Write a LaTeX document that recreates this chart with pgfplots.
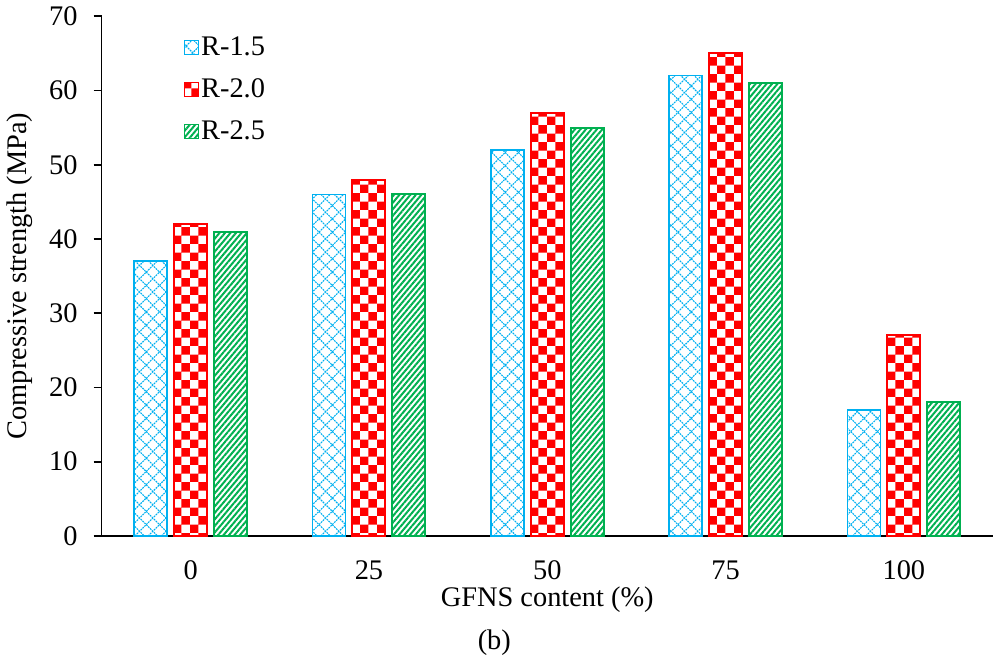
\documentclass[border=0pt]{standalone}
\usepackage{fontspec}
\setmainfont{Liberation Serif}
\usepackage{pgfplots}
\pgfplotsset{compat=1.18}
\usetikzlibrary{patterns.meta}

\definecolor{rblue}{HTML}{00B0F0}
\definecolor{rred}{HTML}{FF0000}
\definecolor{rgreen}{HTML}{00B050}

% diagonal lattice of dashed lines
\pgfdeclarepattern{
  name=lattice,
  type=uncolored,
  bottom left={\pgfpoint{-0.1pt}{-0.1pt}},
  top right={\pgfpoint{6.75pt}{6.75pt}},
  tile size={\pgfpoint{6.65pt}{6.65pt}},
  code={
    \pgfsetlinewidth{0.55pt}
    \pgfsetdash{{0.9pt}{0.45pt}}{0pt}
    \pgfpathmoveto{\pgfpoint{0pt}{0pt}}\pgfpathlineto{\pgfpoint{6.65pt}{6.65pt}}
    \pgfpathmoveto{\pgfpoint{0pt}{6.65pt}}\pgfpathlineto{\pgfpoint{6.65pt}{0pt}}
    \pgfusepath{stroke}
  }
}
% checkerboard
\pgfdeclarepattern{
  name=checker,
  type=uncolored,
  bottom left={\pgfpoint{0pt}{0pt}},
  top right={\pgfpoint{8.7pt}{8.7pt}},
  tile size={\pgfpoint{8.7pt}{8.7pt}},
  code={
    \pgfpathrectangle{\pgfpoint{0pt}{0pt}}{\pgfpoint{4.35pt}{4.35pt}}
    \pgfpathrectangle{\pgfpoint{4.35pt}{4.35pt}}{\pgfpoint{4.35pt}{4.35pt}}
    \pgfusepath{fill}
  }
}

\pgfplotsset{
  sqlegend/.style={legend image code/.code={
    \draw[##1, line width=0.6pt] (0pt,-3.5pt) rectangle (7pt,3.5pt);}},
}

\begin{document}
\begin{tikzpicture}[font=\fontsize{14.2}{17}\selectfont]
\begin{axis}[
  scale only axis, width=446pt, height=260pt,
  xmin=-0.5, xmax=4.5, ymin=0, ymax=70,
  ytick={0,10,...,70},
  xtick={0,1,2,3,4}, xticklabels={0,25,50,75,100},
  axis x line*=bottom, axis y line*=left,
  axis line style={line width=0.9pt, -},
  x tick style={draw=none},
  y tick style={line width=0.9pt, black},
  major tick length=4pt, tick align=outside,
  yticklabel shift=4.5pt,
  xticklabel style={yshift=-5pt},
  ybar=3.5pt, bar width=16.5pt,
  /pgf/number format/assume math mode=true,
  xlabel={GFNS content (\%)},
  ylabel={Compressive strength (MPa)},
  xlabel style={at={(axis description cs:0.5,0)}, anchor=center, yshift=-32pt},
  ylabel style={at={(axis description cs:0,0.5)}, anchor=center, yshift=41pt},
  legend style={draw=none, fill=none, at={(rel axis cs:0.0853,0.973)},
    anchor=north west, row sep=8pt, nodes={inner sep=1pt}},
  legend cell align=left,
  clip=false,
]
\addplot[draw=rblue, line width=0.8pt, pattern=lattice, pattern color=rblue, sqlegend]
  coordinates {(0,37) (1,46) (2,52) (3,62) (4,17)};
\addplot[draw=rred, line width=1pt, pattern=checker, pattern color=rred, sqlegend]
  coordinates {(0,42) (1,48) (2,57) (3,65) (4,27)};
\addplot[draw=rgreen, line width=1pt, pattern={Lines[angle=50, distance=2.1pt, line width=1pt]}, pattern color=rgreen, sqlegend]
  coordinates {(0,41) (1,46) (2,55) (3,61) (4,18)};
\legend{R-1.5, R-2.0, R-2.5}
\coordinate (O) at (rel axis cs:0,0);
\end{axis}
\node at ([shift={(196.5pt,-53.5pt)}]O) {(b)};
\path (O) ++(-50.5pt,-67.5pt) rectangle ++(497pt,335.5pt);
\end{tikzpicture}
\end{document}
